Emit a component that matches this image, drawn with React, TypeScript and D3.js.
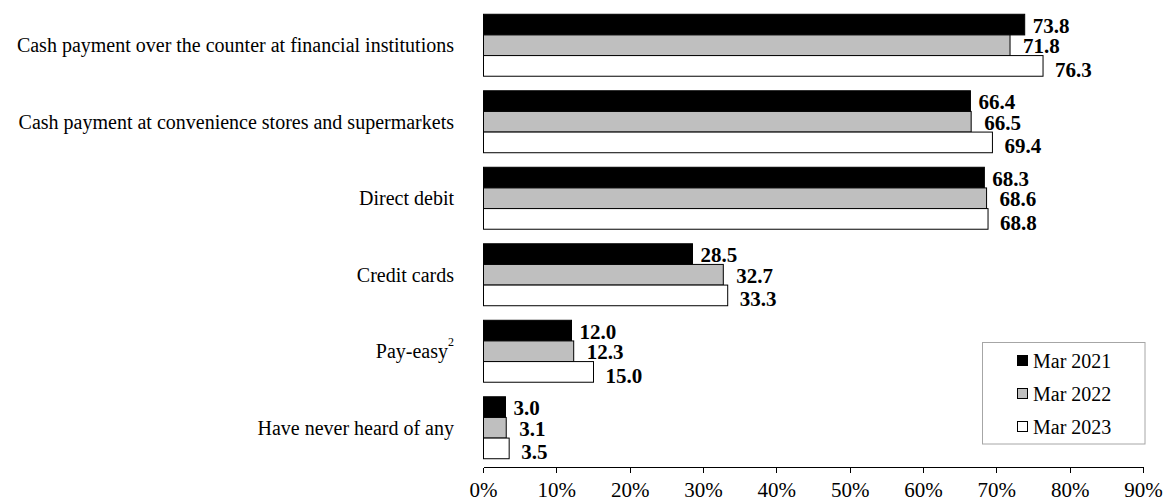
import React from "react";
import * as d3 from "d3";

const categories = [
  "Cash payment over the counter at financial institutions",
  "Cash payment at convenience stores and supermarkets",
  "Direct debit",
  "Credit cards",
  "Pay-easy",
  "Have never heard of any",
];
const categoryNotes = ["", "", "", "", "2", ""];
const seriesNames = ["Mar 2021", "Mar 2022", "Mar 2023"];
const mar2021 = [73.8, 66.4, 68.3, 28.5, 12.0, 3.0];
const mar2022 = [71.8, 66.5, 68.6, 32.7, 12.3, 3.1];
const mar2023 = [76.3, 69.4, 68.8, 33.3, 15.0, 3.5];
const xTicks = [0, 10, 20, 30, 40, 50, 60, 70, 80, 90];

const seriesValues = [mar2021, mar2022, mar2023];
const fills = ["#000000", "#bfbfbf", "#ffffff"];
const labelDx = [8, 13, 12];
const labelDy = [1, 1, 4];

const W = 1165;
const H = 502;
const FONT = "'Liberation Serif', 'Times New Roman', serif";

export default function App() {
  const x = d3.scaleLinear().domain([0, 90]).range([483.5, 1143.5]);
  const y = d3
    .scaleBand<string>()
    .domain(categories)
    .range([7, 466])
    .paddingInner(0.19)
    .paddingOuter(0.095);
  const inner = d3
    .scaleBand<string>()
    .domain(seriesNames)
    .range([0, y.bandwidth()]);
  const axisY = 467.5;

  return (
    <svg
      width={W}
      height={H}
      style={{ position: "absolute", left: 0, top: 0, display: "block", background: "#fff" }}
      fontFamily={FONT}
    >
      {/* category labels */}
      {categories.map((c, i) => (
        <text
          key={c}
          x={454}
          y={(y(c) as number) + y.bandwidth() / 2}
          textAnchor="end"
          dominantBaseline="central"
          fontSize={20}
          fill="#000"
        >
          {c}
          {categoryNotes[i] ? (
            <tspan fontSize={12} dy={-9}>
              {categoryNotes[i]}
            </tspan>
          ) : null}
        </text>
      ))}

      {/* bars */}
      {categories.map((c, i) =>
        seriesNames.map((s, j) => {
          const v = seriesValues[j][i];
          const by = (y(c) as number) + (inner(s) as number);
          const bh = inner.bandwidth();
          return (
            <g key={c + s}>
              <rect
                x={x(0)}
                y={by}
                width={x(v) - x(0)}
                height={bh}
                fill={fills[j]}
                stroke="#000"
                strokeWidth={1}
              />
              <text
                x={x(v) + labelDx[j]}
                y={by + bh / 2 + labelDy[j]}
                dominantBaseline="central"
                fontSize={21}
                fontWeight="bold"
                fill="#000"
              >
                {d3.format(".1f")(v)}
              </text>
            </g>
          );
        })
      )}

      {/* x axis */}
      <g shapeRendering="crispEdges">
        <line x1={x(0)} x2={x(90)} y1={axisY} y2={axisY} stroke="#000" strokeWidth={1} />
        {xTicks.map((t) => (
          <line key={t} x1={x(t)} x2={x(t)} y1={axisY} y2={axisY + 5} stroke="#000" strokeWidth={1} />
        ))}
      </g>
      {xTicks.map((t) => (
        <text
          key={"l" + t}
          x={x(t)}
          y={497}
          textAnchor="middle"
          fontSize={21}
          fill="#000"
        >
          {t + "%"}
        </text>
      ))}

      {/* legend */}
      <rect
        x={982.5}
        y={342.5}
        width={162.5}
        height={101.5}
        fill="#fff"
        stroke="#a6a6a6"
        strokeWidth={1}
      />
      {seriesNames.map((s, j) => {
        const cy = 360.5 + j * 33;
        return (
          <g key={"lg" + s}>
            <rect
              x={1017.5}
              y={cy - 5}
              width={10}
              height={10}
              fill={fills[j]}
              stroke="#000"
              strokeWidth={1}
            />
            <text x={1033} y={cy} dominantBaseline="central" fontSize={20} fill="#000">
              {s}
            </text>
          </g>
        );
      })}
    </svg>
  );
}
